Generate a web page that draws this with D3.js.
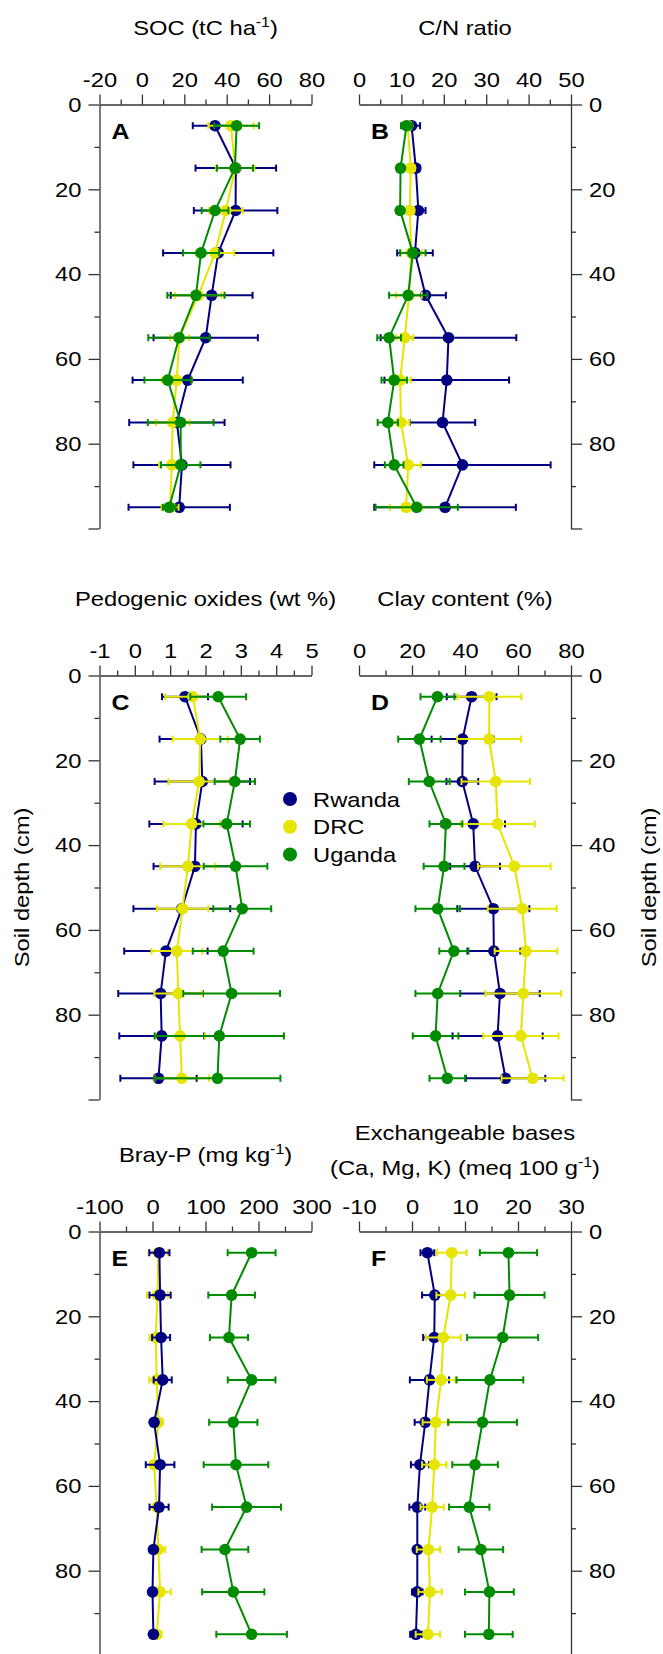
<!DOCTYPE html>
<html>
<head>
<meta charset="utf-8">
<script src="https://cdn.jsdelivr.net/npm/d3@7"></script>
<style>
  body { margin: 0; background: #fff; }
  text { font-family: "Liberation Sans", Arial, sans-serif; }
</style>
</head>
<body>
<div id="chart-area"></div>
<script>
var depths = [5, 15, 25, 35, 45, 55, 65, 75, 85, 95];
var countries = ["Rwanda", "DRC", "Uganda"];
var colors = ["#000080", "#e5e500", "#008b00"];

// each array: rows = Rwanda, DRC, Uganda
var socMean = [
  [34.5, 44.3, 44.2, 36, 32.9, 30.1, 21.6, 16.5, 18.9, 17.6],
  [42, 44, 39.6, 34.5, 26.6, 17.7, 16.4, 14.5, 14.1, 13.3],
  [44.7, 43.9, 34.5, 27.9, 25.5, 17.5, 12.2, 18.3, 18.3, 12.9]
];
var socErr = [
  [10.5, 19, 19.7, 26, 19.3, 24.6, 26, 22.5, 22.9, 23.9],
  [10.7, 9, 8, 9, 11, 4.5, 7, 8, 6, 4],
  [10.6, 8.5, 6.3, 8.5, 13.5, 14.5, 11, 15.5, 9.3, 3]
];
var cnMean = [
  [12.4, 13.4, 14, 13.2, 15.7, 21.1, 20.7, 19.7, 24.4, 20.3],
  [11.5, 12.2, 12, 12.3, 11.8, 10.8, 9.7, 9.9, 11.6, 11.1],
  [11.2, 9.8, 9.7, 12.7, 11.6, 7.1, 8.3, 6.8, 8.3, 13.6]
];
var cnErr = [
  [2, 1, 1.7, 4.2, 4.8, 16, 14.7, 7.7, 20.8, 16.7],
  [1, 1, 1, 2.5, 3, 2, 2.5, 2, 3, 3.8],
  [1.3, 0.5, 0.5, 3, 4.5, 2.8, 3, 2.4, 2.2, 9.7]
];
var oxMean = [
  [1.42, 1.87, 1.91, 1.73, 1.70, 1.33, 0.88, 0.73, 0.76, 0.67],
  [1.64, 1.85, 1.82, 1.61, 1.5, 1.35, 1.19, 1.23, 1.28, 1.33],
  [2.36, 2.98, 2.83, 2.6, 2.85, 3.04, 2.5, 2.74, 2.39, 2.34]
];
var oxErr = [
  [0.65, 1.17, 1.35, 1.32, 1.17, 1.37, 1.18, 1.2, 1.2, 1.08],
  [0.78, 0.78, 0.87, 0.8, 0.78, 0.73, 0.72, 0.68, 0.7, 0.77],
  [0.79, 0.56, 0.57, 0.66, 0.9, 0.82, 0.86, 1.37, 1.83, 1.78]
];
var clayMean = [
  [42.5, 39.1, 39, 43.1, 43.8, 50.7, 50.9, 53.2, 52.3, 55.3],
  [49.2, 49.1, 51.6, 52.3, 58.6, 61.6, 63, 62, 61.1, 65.5],
  [29.6, 22.8, 26.5, 32.8, 32.1, 29.7, 35.8, 29.7, 28.9, 33.3]
];
var clayErr = [
  [9.4, 11.7, 6, 12, 9.4, 13.6, 10, 15, 17, 15],
  [12.1, 12.1, 12.9, 14, 13.7, 13, 11.8, 14.3, 14.2, 11.7],
  [6.4, 8, 7.7, 6.2, 7.7, 8.4, 5.5, 8.4, 8.6, 6.7]
];
var brayMean = [
  [13, 14.3, 16.2, 19.3, 3, 14.3, 12.4, 1.7, 0, 1.7],
  [11, 9.3, 6.1, 8, 11, 3, 8, 11, 14.3, 8],
  [187, 149.3, 144.3, 187, 152.4, 157.5, 177.5, 136.7, 152.4, 187]
];
var brayErr = [
  [19, 20, 17, 17, 3, 27, 18, 5, 5, 3],
  [18, 20, 12, 14, 8, 6, 6, 13, 20, 9],
  [45.2, 44, 36, 45, 45.5, 61, 65, 44, 58.7, 66.6]
];
var basesMean = [
  [2.9, 4.3, 4.2, 3.3, 2.5, 1.5, 1, 1, 1, 0.75],
  [7.5, 7.3, 5.9, 5.5, 4.5, 4.2, 3.8, 3.1, 3.4, 3],
  [18.2, 18.4, 17.1, 14.7, 13.3, 11.9, 10.8, 13, 14.6, 14.5]
];
var basesErr = [
  [1.3, 2.4, 2.1, 3.7, 2, 1.7, 1.5, 0.5, 1, 1.1],
  [2.8, 2.7, 3.3, 2.7, 2.5, 2.3, 2.2, 2.2, 2.2, 2.3],
  [5.4, 6.6, 6.7, 6.3, 6.5, 4.3, 3.8, 4.2, 4.6, 4.5]
];

var depthTicks = [0, 20, 40, 60, 80, 100];
var depthMinor = [10, 30, 50, 70, 90];

var panels = [
  { letter: "A", title: ["SOC (tC ha^-1^)"], mean: socMean, err: socErr, domain: [-20, 80], step: 20, col: 0, row: 0, order: [0, 1, 2] },
  { letter: "B", title: ["C/N ratio"], mean: cnMean, err: cnErr, domain: [0, 50], step: 10, col: 1, row: 0, order: [0, 1, 2] },
  { letter: "C", title: ["Pedogenic oxides (wt %)"], mean: oxMean, err: oxErr, domain: [-1, 5], step: 1, col: 0, row: 1, order: [0, 1, 2] },
  { letter: "D", title: ["Clay content (%)"], mean: clayMean, err: clayErr, domain: [0, 80], step: 20, col: 1, row: 1, order: [0, 1, 2] },
  { letter: "E", title: ["Bray-P (mg kg^-1^)"], mean: brayMean, err: brayErr, domain: [-100, 300], step: 100, col: 0, row: 2, order: [1, 0, 2] },
  { letter: "F", title: ["Exchangeable bases", "(Ca, Mg, K) (meq 100 g^-1^)"], mean: basesMean, err: basesErr, domain: [-10, 30], step: 10, col: 1, row: 2, order: [0, 1, 2] }
];

var colX = [99.5, 359];
var rowY = [104.5, 675.5, 1231.5];
var panelW = 212, panelH = 424;

var svg = d3.select("#chart-area")
  .append("svg")
  .attr("width", 663)
  .attr("height", 1654);

function addTitleLine(sel, str) {
  // parts between ^ are superscripts
  var parts = str.split("^");
  parts.forEach(function(p, i) {
    if (p === "") return;
    if (i % 2 === 1) {
      sel.append("tspan").attr("font-size", "14px").attr("dy", -8).text(p);
    } else {
      sel.append("tspan").attr("dy", i > 0 ? 8 : 0).text(p);
    }
  });
}

panels.forEach(function(p) {
  var left = colX[p.col], top = rowY[p.row];
  var g = svg.append("g");

  var x = d3.scaleLinear().domain(p.domain).range([left, left + panelW]);
  var y = d3.scaleLinear().domain([0, 100]).range([top, top + panelH]);

  var majors = d3.range(p.domain[0], p.domain[1] + p.step / 2, p.step);
  var minors = d3.range(p.domain[0] + p.step / 2, p.domain[1], p.step);

  g.append("g")
    .attr("transform", "translate(0," + top + ")")
    .call(d3.axisTop(x).tickValues(majors).tickSize(10).tickPadding(8).tickSizeOuter(0)
      .tickFormat(function(d) { return String(d); }));
  g.append("g")
    .attr("transform", "translate(0," + top + ")")
    .call(d3.axisTop(x).tickValues(minors).tickSize(5).tickSizeOuter(0).tickFormat(""))
    .select(".domain").remove();

  var yAxisX = p.col === 0 ? left : left + panelW;
  var yMaj = p.col === 0 ? d3.axisLeft(y) : d3.axisRight(y);
  var yMin = p.col === 0 ? d3.axisLeft(y) : d3.axisRight(y);
  g.append("g")
    .attr("transform", "translate(" + yAxisX + ",0)")
    .call(yMaj.tickValues(depthTicks).tickSize(11).tickPadding(7).tickSizeOuter(0)
      .tickFormat(function(d) { return d === 100 ? "" : d; }));
  g.append("g")
    .attr("transform", "translate(" + yAxisX + ",0)")
    .call(yMin.tickValues(depthMinor).tickSize(5).tickSizeOuter(0).tickFormat(""))
    .select(".domain").remove();

  g.selectAll(".domain, .tick line").attr("stroke", "#333").attr("stroke-width", 1.3);
  g.selectAll(".tick text").attr("font-size", "21px").attr("fill", "#000")
    .attr("font-family", "Liberation Sans, Arial, sans-serif");

  // title
  var nLines = p.title.length;
  p.title.forEach(function(line, i) {
    var t = g.append("text")
      .attr("x", left + panelW / 2)
      .attr("y", nLines === 1 ? top - 70 : top - 92 + i * 35)
      .attr("text-anchor", "middle")
      .attr("font-size", "21px");
    addTitleLine(t, line);
  });

  // panel letter
  g.append("text")
    .attr("x", left + 12)
    .attr("y", top + 34)
    .attr("font-size", "22px")
    .attr("font-weight", "bold")
    .text(p.letter);

  var line = d3.line()
    .x(function(d) { return x(d.m); })
    .y(function(d) { return y(d.depth); });

  p.order.forEach(function(s) {
    var pts = depths.map(function(dp, i) {
      return { depth: dp, m: p.mean[s][i], e: p.err[s][i] };
    });
    var sg = g.append("g").attr("class", countries[s]);
    var col = colors[s];

    sg.append("path")
      .datum(pts)
      .attr("fill", "none")
      .attr("stroke", col)
      .attr("stroke-width", 2)
      .attr("d", line);

    sg.selectAll(".bar")
      .data(pts)
      .enter()
      .append("line")
      .attr("x1", function(d) { return x(d.m - d.e); })
      .attr("x2", function(d) { return x(d.m + d.e); })
      .attr("y1", function(d) { return y(d.depth); })
      .attr("y2", function(d) { return y(d.depth); })
      .attr("stroke", col)
      .attr("stroke-width", 2);

    [-1, 1].forEach(function(sgn) {
      sg.selectAll(".cap" + sgn)
        .data(pts)
        .enter()
        .append("line")
        .attr("x1", function(d) { return x(d.m + sgn * d.e); })
        .attr("x2", function(d) { return x(d.m + sgn * d.e); })
        .attr("y1", function(d) { return y(d.depth) - 3.5; })
        .attr("y2", function(d) { return y(d.depth) + 3.5; })
        .attr("stroke", col)
        .attr("stroke-width", 2);
    });

    sg.selectAll("circle")
      .data(pts)
      .enter()
      .append("circle")
      .attr("cx", function(d) { return x(d.m); })
      .attr("cy", function(d) { return y(d.depth); })
      .attr("r", 5.8)
      .attr("fill", col);
  });
});

// y axis labels
svg.append("text")
  .attr("transform", "translate(29," + (rowY[1] + panelH / 2) + ") rotate(-90)")
  .attr("text-anchor", "middle")
  .attr("font-size", "21px")
  .text("Soil depth (cm)");
svg.append("text")
  .attr("transform", "translate(656," + (rowY[1] + panelH / 2) + ") rotate(-90)")
  .attr("text-anchor", "middle")
  .attr("font-size", "21px")
  .text("Soil depth (cm)");

// legend
var legend = svg.append("g").attr("transform", "translate(290,799)");
countries.forEach(function(c, i) {
  legend.append("circle")
    .attr("cx", 0)
    .attr("cy", i * 27.7)
    .attr("r", 7)
    .attr("fill", colors[i]);
  legend.append("text")
    .attr("x", 23)
    .attr("y", i * 27.7)
    .attr("dy", "0.36em")
    .attr("font-size", "21px")
    .text(c);
});

// the original lettering is a little wider than Arial
svg.selectAll("text").each(function() {
  var w = this.getComputedTextLength();
  if (w > 0) {
    this.setAttribute("textLength", w * 1.13);
    this.setAttribute("lengthAdjust", "spacingAndGlyphs");
  }
});
</script>
</body>
</html>
